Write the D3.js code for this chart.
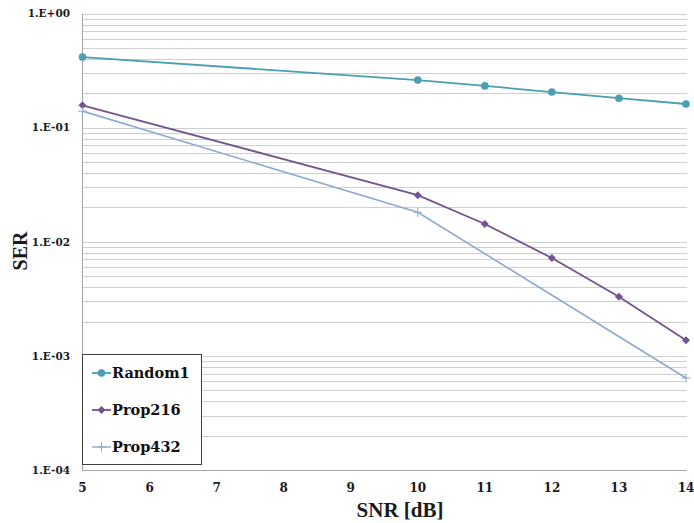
<!DOCTYPE html>
<html>
<head>
<meta charset="utf-8">
<script src="https://cdn.jsdelivr.net/npm/d3@7"></script>
<style>
  html, body { margin: 0; padding: 0; background: #fff; }
  svg { display: block; }
</style>
</head>
<body>
<svg id="chart" width="694" height="523"></svg>
<script>
// ---- data ----
const snr = [5, 6, 7, 8, 9, 10, 11, 12, 13, 14];
const xTickLabels = ["5", "6", "7", "8", "9", "10", "11", "12", "13", "14"];
const yTickValues = [1, 1e-1, 1e-2, 1e-3, 1e-4];
const yTickLabels = ["1.E+00", "1.E-01", "1.E-02", "1.E-03", "1.E-04"];
const seriesNames = ["Random1", "Prop216", "Prop432"];
const random1 = [0.415, null, null, null, null, 0.261, 0.232, 0.205, 0.181, 0.161];
const prop216 = [0.157, null, null, null, null, 0.0256, 0.0143, 0.0072, 0.0033, 0.00137];
const prop432 = [0.1395, null, null, null, null, 0.0181, null, null, null, 0.00064];

const svg = d3.select("#chart");
const x = d3.scaleLinear().domain([5, 14]).range([82.5, 686]);
const y = d3.scaleLog().domain([1e-4, 1]).range([470, 13.5]);

// minor + major gridlines
const gridVals = [];
for (let e = -4; e < 0; e++) {
  for (let m = 1; m < 10; m++) gridVals.push(m * Math.pow(10, e));
}
gridVals.push(1);
svg.append("g").selectAll("line").data(gridVals.filter(v => v > 1e-4)).join("line")
  .attr("x1", x(5)).attr("x2", 687)
  .attr("y1", d => Math.round(y(d)) + 0.5).attr("y2", d => Math.round(y(d)) + 0.5)
  .attr("stroke", "#cfcfcf").attr("stroke-width", 1);

// axes lines
svg.append("line").attr("x1", 82.5).attr("x2", 82.5).attr("y1", y(1)).attr("y2", y(1e-4) + 0.5)
  .attr("stroke", "#a6a6a6").attr("stroke-width", 1);
svg.append("line").attr("x1", 82).attr("x2", 687).attr("y1", Math.round(y(1e-4)) + 0.5).attr("y2", Math.round(y(1e-4)) + 0.5)
  .attr("stroke", "#a6a6a6").attr("stroke-width", 1);

// y tick labels
svg.append("g").selectAll("text").data(yTickValues).join("text")
  .attr("x", 70).attr("y", d => y(d)).attr("dy", "0.36em")
  .attr("text-anchor", "end")
  .attr("font-family", "DejaVu Serif").attr("font-weight", "bold").attr("font-size", 10.5)
  .attr("fill", "#1a1a1a")
  .text((d, i) => yTickLabels[i]);

// x tick labels
svg.append("g").selectAll("text").data(snr).join("text")
  .attr("x", d => x(d)).attr("y", 488).attr("dy", "0.36em")
  .attr("text-anchor", "middle")
  .attr("font-family", "DejaVu Serif").attr("font-weight", "bold").attr("font-size", 12)
  .attr("fill", "#1a1a1a")
  .text((d, i) => xTickLabels[i]);

// axis titles
svg.append("text").attr("x", 400).attr("y", 517)
  .attr("text-anchor", "middle")
  .attr("font-family", "Liberation Serif").attr("font-weight", "bold").attr("font-size", 21)
  .attr("fill", "#1a1a1a").text("SNR [dB]");
svg.append("text").attr("transform", "translate(27,251) rotate(-90)")
  .attr("text-anchor", "middle")
  .attr("font-family", "Liberation Serif").attr("font-weight", "bold").attr("font-size", 20)
  .attr("fill", "#1a1a1a").text("SER");

// series
const colors = ["#4a9fb2", "#72548f", "#8eaad0"];
const dataSets = [random1, prop216, prop432];
const markers = ["circle", "diamond", "plus"];

function drawMarker(g, type, color, cx, cy) {
  if (type === "circle") {
    g.append("circle").attr("cx", cx).attr("cy", cy).attr("r", 3.8).attr("fill", color);
  } else if (type === "diamond") {
    const s = 4;
    g.append("path").attr("d", `M${cx},${cy - s}L${cx + s},${cy}L${cx},${cy + s}L${cx - s},${cy}Z`)
      .attr("fill", color);
  } else {
    g.append("path").attr("d", `M${cx - 4.5},${cy}H${cx + 4.5}M${cx},${cy - 4.5}V${cy + 4.5}`)
      .attr("stroke", color).attr("stroke-width", 1);
  }
}

const line = d3.line().x(d => x(d[0])).y(d => y(d[1]));
dataSets.forEach((vals, i) => {
  const pts = snr.map((s, j) => [s, vals[j]]).filter(d => d[1] != null);
  const g = svg.append("g");
  g.append("path").datum(pts).attr("d", line)
    .attr("fill", "none").attr("stroke", colors[i]).attr("stroke-width", i === 2 ? 1.6 : 1.8);
  pts.forEach(p => drawMarker(g, markers[i], colors[i], x(p[0]), y(p[1])));
});

// legend
const lg = svg.append("g");
lg.append("rect").attr("x", 82.5).attr("y", 354.5).attr("width", 119).attr("height", 110)
  .attr("fill", "#fff").attr("stroke", "#3f3f3f").attr("stroke-width", 1);
const legY = [373, 410, 447];
seriesNames.forEach((name, i) => {
  lg.append("line").attr("x1", 92).attr("x2", 111).attr("y1", legY[i]).attr("y2", legY[i])
    .attr("stroke", colors[i]).attr("stroke-width", i === 2 ? 1.4 : 1.8);
  drawMarker(lg, markers[i], colors[i], 101.5, legY[i]);
  lg.append("text").attr("x", 112).attr("y", legY[i]).attr("dy", "0.36em")
    .attr("font-family", "DejaVu Serif").attr("font-weight", "bold").attr("font-size", 14.5)
    .attr("fill", "#111").text(name);
});
</script>
</body>
</html>
